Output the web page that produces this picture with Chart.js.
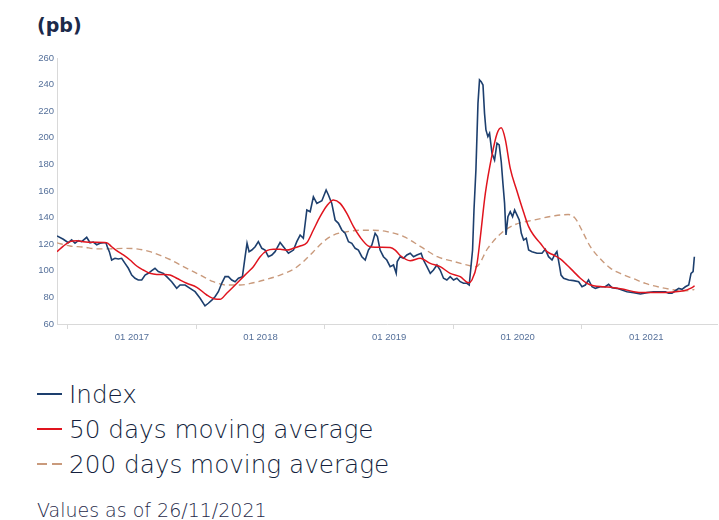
<!DOCTYPE html>
<html>
<head>
<meta charset="utf-8">
<script src="https://cdn.jsdelivr.net/npm/chart.js@4"></script>
<style>
  body { margin: 0; background: #fff; width: 719px; height: 520px; position: relative; overflow: hidden; }
  #unit { position: absolute; left: 37px; top: 16px; font: bold 19px "DejaVu Sans"; line-height: 1; color: #1c2a4a; }
  #chart { position: absolute; left: 0; top: 0; }
  .leg { position: absolute; left: 37px; padding-left: 32px; font: 200 24.7px "DejaVu Sans"; line-height: 35px; color: #141f3d; white-space: nowrap; }
  .leg i { position: absolute; left: 0; top: 16px; width: 25px; height: 2px; }
  #asof { position: absolute; left: 37px; top: 501px; font: 200 19px "DejaVu Sans"; line-height: 1; color: #1f2a4a; }
</style>
</head>
<body>
<div id="unit">(pb)</div>
<canvas id="chart" width="719" height="360"></canvas>
<div class="leg" style="top:377px"><i style="background:#1d3f6e"></i>Index</div>
<div class="leg" style="top:412px"><i style="background:#e0141e"></i>50 days moving average</div>
<div class="leg" style="top:447px"><i style="background:repeating-linear-gradient(to right,#c99a7c 0 10px,transparent 10px 15px)"></i>200 days moving average</div>
<div id="asof">Values as of 26/11/2021</div>
<script>
// dates are decimal years
const indexYears = [2016.917, 2016.966, 2017.005, 2017.031, 2017.057, 2017.082, 2017.109, 2017.148, 2017.174, 2017.199,
  2017.226, 2017.251, 2017.277, 2017.298, 2017.308, 2017.324, 2017.342, 2017.368, 2017.394, 2017.420,
  2017.446, 2017.472, 2017.498, 2017.524, 2017.549, 2017.576, 2017.602, 2017.627, 2017.654, 2017.679,
  2017.705, 2017.744, 2017.770, 2017.809, 2017.848, 2017.874, 2017.913, 2017.952, 2017.991, 2018.030,
  2018.068, 2018.094, 2018.121, 2018.146, 2018.172, 2018.198, 2018.224, 2018.250, 2018.276, 2018.302,
  2018.328, 2018.359, 2018.380, 2018.395, 2018.411, 2018.432, 2018.458, 2018.483, 2018.510, 2018.535,
  2018.561, 2018.588, 2018.613, 2018.652, 2018.678, 2018.717, 2018.756, 2018.782, 2018.808, 2018.833,
  2018.860, 2018.886, 2018.911, 2018.938, 2018.977, 2019.010, 2019.028, 2019.054, 2019.080, 2019.106,
  2019.132, 2019.158, 2019.184, 2019.210, 2019.236, 2019.261, 2019.288, 2019.314, 2019.339, 2019.366,
  2019.391, 2019.409, 2019.430, 2019.456, 2019.482, 2019.508, 2019.534, 2019.555, 2019.563, 2019.586,
  2019.612, 2019.638, 2019.664, 2019.690, 2019.716, 2019.749, 2019.767, 2019.794, 2019.820, 2019.845,
  2019.872, 2019.897, 2019.923, 2019.949, 2019.975, 2020.001, 2020.027, 2020.053, 2020.079, 2020.105,
  2020.123, 2020.139, 2020.149, 2020.160, 2020.175, 2020.191, 2020.203, 2020.216, 2020.230, 2020.242,
  2020.253, 2020.268, 2020.281, 2020.300, 2020.320, 2020.339, 2020.356, 2020.372, 2020.385, 2020.398,
  2020.409, 2020.424, 2020.442, 2020.460, 2020.476, 2020.494, 2020.512, 2020.528, 2020.546, 2020.567,
  2020.585, 2020.611, 2020.650, 2020.689, 2020.714, 2020.740, 2020.767, 2020.787, 2020.805, 2020.826,
  2020.837, 2020.857, 2020.896, 2020.935, 2020.974, 2021.000, 2021.026, 2021.051, 2021.078, 2021.104,
  2021.142, 2021.181, 2021.207, 2021.233, 2021.272, 2021.311, 2021.350, 2021.402, 2021.454, 2021.506,
  2021.557, 2021.609, 2021.648, 2021.674, 2021.700, 2021.726, 2021.752, 2021.778, 2021.804, 2021.830,
  2021.848, 2021.864, 2021.874];
const indexValues = [126.2, 123.7, 121.1, 123.2, 120.7, 122.6, 121.9, 125.2, 121.1, 121.6,
  119.6, 120.7, 121.1, 121.1, 118.1, 114.4, 108.1, 109.4, 108.9, 109.4,
  105.6, 101.9, 96.8, 94.4, 93.1, 93.1, 96.8, 98.1, 100.1, 101.9,
  99.4, 98.1, 95.6, 91.8, 86.8, 89.3, 89.3, 86.8, 84.3, 79.3,
  73.6, 75.6, 78.0, 80.5, 84.3, 90.6, 95.6, 95.6, 93.1, 91.8,
  94.4, 95.6, 110.6, 120.7, 114.4, 115.6, 118.1, 121.9, 116.9, 115.6,
  110.6, 111.9, 114.4, 121.3, 118.1, 113.2, 115.6, 121.9, 126.9, 124.4,
  145.7, 144.4, 155.7, 150.7, 152.7, 160.8, 157.0, 150.7, 138.2, 135.7,
  130.7, 128.2, 121.9, 120.7, 116.9, 115.6, 110.6, 108.1, 115.6, 119.4,
  128.2, 125.7, 115.6, 110.6, 108.1, 103.1, 104.4, 98.1, 106.9, 110.6,
  109.4, 111.9, 113.2, 110.6, 111.9, 113.2, 108.1, 103.1, 98.1, 100.6,
  104.4, 100.6, 94.4, 93.1, 95.6, 93.1, 94.4, 91.8, 90.6, 90.6,
  89.3, 105.6, 115.6, 145.7, 175.8, 225.9, 243.5, 242.2, 239.7, 218.4,
  205.9, 200.9, 203.4, 188.3, 183.3, 195.9, 194.6, 182.0, 165.8, 150.7,
  126.9, 140.7, 144.4, 140.7, 145.7, 142.0, 138.2, 128.2, 123.2, 124.4,
  115.6, 114.4, 113.2, 113.2, 116.2, 110.6, 108.1, 111.9, 114.4, 103.1,
  96.8, 94.4, 93.1, 92.6, 91.8, 88.0, 89.3, 93.1, 88.0, 86.8,
  88.0, 88.0, 89.8, 87.3, 86.8, 85.6, 84.3, 83.6, 82.6, 83.6,
  84.3, 84.3, 84.3, 83.1, 83.1, 85.0, 86.8, 86.1, 88.0, 89.3,
  98.1, 99.4, 110.6];

const ma50Years = [2016.917, 2016.966, 2017.018, 2017.070, 2017.121, 2017.199, 2017.303, 2017.342, 2017.381, 2017.433,
  2017.485, 2017.537, 2017.588, 2017.640, 2017.693, 2017.757, 2017.796, 2017.848, 2017.926, 2018.004,
  2018.082, 2018.146, 2018.185, 2018.237, 2018.289, 2018.341, 2018.393, 2018.444, 2018.497, 2018.549,
  2018.600, 2018.652, 2018.704, 2018.756, 2018.808, 2018.860, 2018.911, 2018.963, 2019.016, 2019.067,
  2019.119, 2019.171, 2019.223, 2019.275, 2019.339, 2019.391, 2019.444, 2019.508, 2019.547, 2019.586,
  2019.664, 2019.742, 2019.820, 2019.897, 2019.975, 2020.053, 2020.118, 2020.144, 2020.183, 2020.209,
  2020.248, 2020.300, 2020.339, 2020.372, 2020.403, 2020.442, 2020.494, 2020.546, 2020.585, 2020.623,
  2020.676, 2020.728, 2020.779, 2020.831, 2020.883, 2020.935, 2020.987, 2021.039, 2021.090, 2021.168,
  2021.246, 2021.324, 2021.402, 2021.479, 2021.609, 2021.713, 2021.791, 2021.843, 2021.876];
const ma50Values = [114.4, 118.6, 121.9, 122.6, 121.9, 121.4, 121.1, 118.1, 115.1, 111.9,
  108.1, 103.6, 100.6, 98.1, 97.3, 97.3, 96.8, 94.4, 90.6, 87.6,
  81.8, 78.8, 78.6, 83.1, 88.0, 93.1, 98.1, 103.1, 110.6, 115.1,
  116.2, 116.2, 115.6, 116.9, 118.6, 121.1, 130.7, 140.7, 148.9, 153.3,
  150.7, 143.2, 133.2, 125.2, 118.6, 117.7, 117.7, 117.5, 115.6, 111.5,
  107.6, 109.4, 105.6, 103.1, 98.1, 95.6, 91.0, 93.1, 105.0, 125.0,
  158.0, 187.0, 203.0, 207.5, 199.0, 177.0, 160.0, 144.0, 133.2, 126.9,
  120.7, 114.4, 111.9, 109.0, 104.4, 99.4, 94.4, 90.6, 88.8, 88.0,
  87.3, 86.1, 84.3, 83.6, 83.6, 84.1, 85.0, 86.8, 88.6];

const ma200Years = [2016.917, 2017.018, 2017.121, 2017.226, 2017.329, 2017.433, 2017.537, 2017.640, 2017.744, 2017.796,
  2017.900, 2018.030, 2018.133, 2018.237, 2018.341, 2018.444, 2018.549, 2018.652, 2018.756, 2018.833,
  2018.911, 2018.989, 2019.067, 2019.171, 2019.275, 2019.376, 2019.483, 2019.614, 2019.745, 2019.875,
  2020.006, 2020.110, 2020.176, 2020.267, 2020.372, 2020.476, 2020.633, 2020.789, 2020.893, 2020.946,
  2021.012, 2021.065, 2021.142, 2021.220, 2021.298, 2021.402, 2021.493, 2021.609, 2021.687, 2021.765,
  2021.843, 2021.874];
const ma200Values = [121.0, 118.6, 117.9, 116.5, 116.5, 116.9, 116.5, 114.4, 110.6, 108.5,
  103.1, 96.8, 91.8, 89.3, 89.3, 91.0, 93.6, 96.8, 101.1, 106.9,
  114.4, 121.9, 126.9, 129.4, 130.5, 130.5, 129.5, 125.7, 118.2, 110.6,
  106.9, 104.3, 103.0, 116.9, 128.3, 134.6, 138.3, 141.4, 142.3, 139.6,
  128.0, 118.1, 109.0, 102.0, 98.0, 94.0, 90.5, 87.6, 86.1, 85.0,
  85.3, 86.0];

const axisYears = [2017, 2018, 2019, 2020, 2021];

const pairs = (xs, ys) => xs.map((x, i) => ({ x: x, y: ys[i] }));

const tickFont = { family: 'Liberation Sans', size: 9.5 };
const tickColor = '#55709a';
const axisGrey = '#d9d9d9';

new Chart(document.getElementById('chart'), {
  type: 'line',
  data: {
    datasets: [{
      label: 'Index',
      data: pairs(indexYears, indexValues),
      borderColor: '#1d3f6e',
      borderWidth: 1.6,
      pointRadius: 0,
      tension: 0,
      order: 2
    }, {
      label: '50 days moving average',
      data: pairs(ma50Years, ma50Values),
      borderColor: '#e0141e',
      borderWidth: 1.5,
      pointRadius: 0,
      cubicInterpolationMode: 'monotone',
      order: 1
    }, {
      label: '200 days moving average',
      data: pairs(ma200Years, ma200Values),
      borderColor: '#c99a7c',
      borderWidth: 1.4,
      borderDash: [6, 4],
      pointRadius: 0,
      cubicInterpolationMode: 'monotone',
      order: 3
    }]
  },
  options: {
    responsive: false,
    animation: false,
    layout: { padding: { top: 58, right: 2, left: 0, bottom: 0 } },
    plugins: { legend: { display: false }, tooltip: { enabled: false } },
    scales: {
      x: {
        type: 'linear',
        min: 2016.917,
        max: 2022.05,
        border: { color: axisGrey },
        grid: {
          drawOnChartArea: false,
          tickLength: 5,
          // tick marks only at the year boundaries
          tickColor: (c) => (c.tick && c.tick.value % 1 === 0) ? axisGrey : 'rgba(0,0,0,0)'
        },
        afterBuildTicks: (s) => {
          const t = [];
          axisYears.forEach((y) => { t.push({ value: y }); t.push({ value: y + 0.5 }); });
          s.ticks = t;
        },
        afterFit: (s) => { s.height = 36; },
        ticks: {
          autoSkip: false,
          maxRotation: 0,
          padding: 3,
          color: tickColor,
          font: tickFont,
          callback: (v) => (v % 1 === 0) ? '' : '01 ' + Math.floor(v)
        }
      },
      y: {
        min: 60,
        max: 260,
        border: { color: axisGrey },
        grid: { drawOnChartArea: false, drawTicks: false },
        afterFit: (s) => { s.width = 57; },
        ticks: { stepSize: 20, padding: 3, color: tickColor, font: tickFont }
      }
    }
  }
});
</script>
</body>
</html>
